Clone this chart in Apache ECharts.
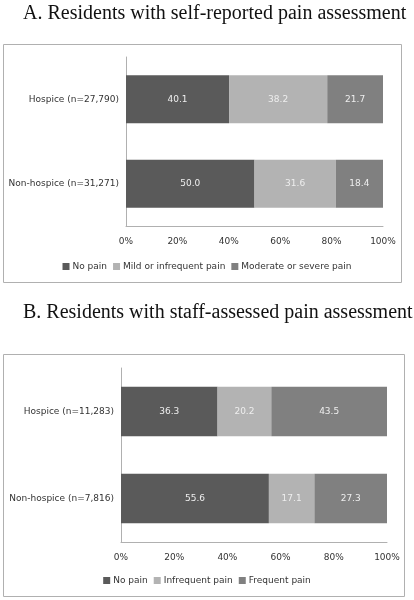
<!DOCTYPE html>
<html>
<head>
<meta charset="utf-8">
<script src="https://cdn.jsdelivr.net/npm/echarts@6/dist/echarts.min.js"></script>
<style>
html,body{margin:0;padding:0;background:#fff;}
#c{width:414px;height:600px;}
</style>
</head>
<body>
<div id="c"></div>
<script>
const titleA = 'A. Residents with self-reported pain assessment';
const titleB = 'B. Residents with staff-assessed pain assessment';
const categoriesA = ['Hospice (n=27,790)', 'Non-hospice (n=31,271)'];
const categoriesB = ['Hospice (n=11,283)', 'Non-hospice (n=7,816)'];
const namesA = ['No pain', 'Mild or infrequent pain', 'Moderate or severe pain'];
const namesB = ['No pain', 'Infrequent pain', 'Frequent pain'];
const aNoPain = [40.1, 50.0];
const aMild = [38.2, 31.6];
const aModerate = [21.7, 18.4];
const bNoPain = [36.3, 55.6];
const bInfrequent = [20.2, 17.1];
const bFrequent = [43.5, 27.3];
const xTicks = [0, 20, 40, 60, 80, 100];

const colors = ['#5a5a5a', '#b3b3b3', '#808080'];
const font = 'DejaVu Sans';
const fs = 9;

function bar(name, data, idx, color, stack) {
  return {
    type: 'bar', name: name, data: data, stack: stack,
    xAxisIndex: idx, yAxisIndex: idx,
    barWidth: '57%',
    itemStyle: { color: color },
    label: {
      show: true, position: 'inside', color: '#eeeeee',
      fontFamily: font, fontSize: fs,
      formatter: p => p.value.toFixed(1)
    }
  };
}

const xAxisCommon = {
  type: 'value', min: 0, max: 100, interval: 20,
  axisLine: { show: true, lineStyle: { color: '#b0b0b0' } },
  axisTick: { show: false },
  splitLine: { show: false },
  axisLabel: { fontFamily: font, fontSize: fs, color: '#333', margin: 11,
    formatter: v => v + '%' }
};
const yAxisCommon = {
  type: 'category', inverse: true,
  axisLine: { show: true, lineStyle: { color: '#b0b0b0' } },
  axisTick: { show: false },
  axisLabel: { fontFamily: font, fontSize: fs, color: '#333', margin: 7 }
};

const chart = echarts.init(document.getElementById('c'), null, { renderer: 'canvas' });
chart.setOption({
  animation: false,
  color: colors,
  title: [
    { text: titleA, left: 23, top: 4, padding: 0,
      textStyle: { fontFamily: 'Liberation Serif', fontSize: 20, fontWeight: 'normal', color: '#111' } },
    { text: titleB, left: 23, top: 303, padding: 0,
      textStyle: { fontFamily: 'Liberation Serif', fontSize: 20, fontWeight: 'normal', color: '#111' } }
  ],
  graphic: [
    { type: 'rect', shape: { x: 3.5, y: 44.5, width: 398, height: 238 },
      style: { fill: 'none', stroke: '#b0b0b0', lineWidth: 1 }, z: -1 },
    { type: 'rect', shape: { x: 3.5, y: 354.5, width: 401, height: 242 },
      style: { fill: 'none', stroke: '#b0b0b0', lineWidth: 1 }, z: -1 }
  ],
  legend: [
    { data: namesA, left: 'center', top: 257, itemWidth: 7, itemHeight: 7, itemGap: 6,
      icon: 'rect', textStyle: { fontFamily: font, fontSize: fs, color: '#333', padding: [0, 0, 0, -2] } },
    { data: namesB, left: 'center', top: 571, itemWidth: 7, itemHeight: 7, itemGap: 6,
      icon: 'rect', textStyle: { fontFamily: font, fontSize: fs, color: '#333', padding: [0, 0, 0, -2] } }
  ],
  grid: [
    { left: 126, right: 31, top: 57, height: 169, outerBoundsMode: 'none', containLabel: false },
    { left: 121, right: 27, top: 368, height: 174, outerBoundsMode: 'none', containLabel: false }
  ],
  xAxis: [
    Object.assign({ gridIndex: 0 }, xAxisCommon),
    Object.assign({ gridIndex: 1 }, xAxisCommon)
  ],
  yAxis: [
    Object.assign({ gridIndex: 0, data: categoriesA }, yAxisCommon),
    Object.assign({ gridIndex: 1, data: categoriesB }, yAxisCommon)
  ],
  series: [
    bar(namesA[0], aNoPain, 0, colors[0], 'a'),
    bar(namesA[1], aMild, 0, colors[1], 'a'),
    bar(namesA[2], aModerate, 0, colors[2], 'a'),
    bar(namesB[0], bNoPain, 1, colors[0], 'b'),
    bar(namesB[1], bInfrequent, 1, colors[1], 'b'),
    bar(namesB[2], bFrequent, 1, colors[2], 'b')
  ]
});
</script>
</body>
</html>
